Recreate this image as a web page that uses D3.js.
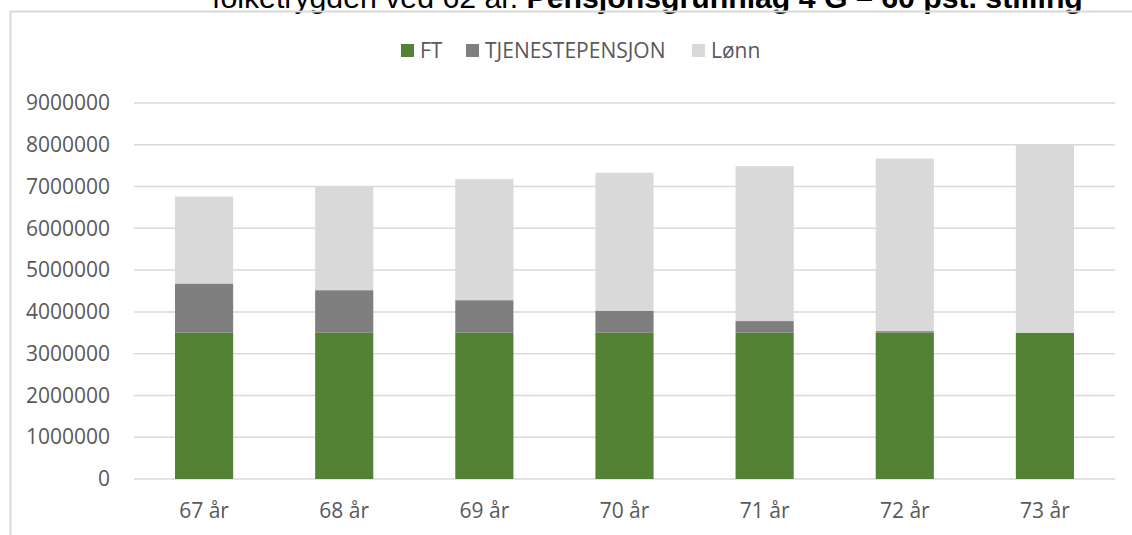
<!DOCTYPE html>
<html>
<head>
<meta charset="utf-8">
<script src="https://cdn.jsdelivr.net/npm/d3@7"></script>
<style>
  html, body { margin: 0; padding: 0; background: #fff; overflow: hidden; }
  svg { display: block; }
</style>
</head>
<body>
<div id="chart"></div>
<script>
const categories = ["67 år", "68 år", "69 år", "70 år", "71 år", "72 år", "73 år"];
const ftValues = [3500000, 3500000, 3500000, 3500000, 3500000, 3500000, 3500000];
const tjenesteValues = [1180000, 1020000, 780000, 530000, 280000, 40000, 0];
const lonnValues = [2080000, 2480000, 2900000, 3300000, 3710000, 4130000, 4490000];
const seriesNames = ["FT", "TJENESTEPENSJON", "Lønn"];
const seriesColors = ["#548235", "#7f7f7f", "#d9d9d9"];
const yTicks = [0, 1000000, 2000000, 3000000, 4000000, 5000000, 6000000, 7000000, 8000000, 9000000];

const width = 1132, height = 535;
const svg = d3.select("#chart").append("svg")
	.attr("width", width)
	.attr("height", height);

// cut-off title from the surrounding document
let title = svg.append("text")
	.attr("x", 212)
	.attr("y", 8)
	.style("font", "30px 'Liberation Sans', Arial, sans-serif")
	.attr("fill", "#000");
title.append("tspan").text("folketrygden ved 62 år. ");
title.append("tspan").style("font-weight", "bold").text("Pensjonsgrunnlag 4 G – 60 pst. stilling");
// stretch to the width it has in the source
let tw = title.node().getComputedTextLength();
title.style("font-size", (30 * 871 / tw) + "px");

// chart frame
svg.append("path")
	.attr("d", `M10.5,${height} V11.5 H${width}`)
	.attr("fill", "none")
	.attr("stroke", "#d9d9d9")
	.attr("stroke-width", 2);

let margin = {top: 103, right: 17, bottom: 56, left: 134};

let x = d3.scaleBand()
	.domain(categories)
	.range([margin.left, width - margin.right])
	.paddingInner(0.585)
	.paddingOuter(0.2925);

let y = d3.scaleLinear()
	.domain([0, 9000000])
	.range([height - margin.bottom, margin.top]);

const labelFont = "21px 'Open Sans', sans-serif";

// grid
svg.append("g")
	.selectAll("line")
	.data(yTicks).enter()
	.append("line")
	.attr("x1", margin.left)
	.attr("x2", width - margin.right)
	.attr("y1", d => y(d))
	.attr("y2", d => y(d))
	.attr("stroke", "#d9d9d9")
	.attr("stroke-width", 1.5);

let yAxis = g => g
	.attr("transform", `translate(${margin.left - 24},0)`)
	.call(d3.axisLeft(y).tickValues(yTicks).tickFormat(d3.format("d")).tickSize(0).tickPadding(0))
	.call(g => g.select(".domain").remove());

svg.append("g")
	.call(yAxis)
	.call(g => g.selectAll("text").style("font", labelFont).attr("fill", "#595959"));

let xAxis = g => g
	.attr("transform", `translate(0,${height - margin.bottom})`)
	.call(d3.axisBottom(x).tickSize(0).tickPadding(24))
	.call(g => g.select(".domain").remove());

svg.append("g")
	.call(xAxis)
	.call(g => g.selectAll("text").style("font", labelFont).attr("fill", "#595959"));

// stacked bars
let rows = categories.map((c, i) => ({
	cat: c,
	FT: ftValues[i],
	TJENESTEPENSJON: tjenesteValues[i],
	"Lønn": lonnValues[i]
}));
let stacked = d3.stack().keys(seriesNames)(rows);

svg.append("g")
	.selectAll("g")
	.data(stacked).enter()
	.append("g")
	.attr("fill", (d, i) => seriesColors[i])
	.selectAll("rect")
	.data(d => d).enter()
	.append("rect")
	.attr("x", d => x(d.data.cat))
	.attr("width", x.bandwidth())
	.attr("y", d => y(d[1]))
	.attr("height", d => y(d[0]) - y(d[1]));

// legend
let legendX = [401, 466, 692];
let legend = svg.append("g")
	.selectAll("g")
	.data(seriesNames).enter()
	.append("g")
	.attr("transform", (d, i) => `translate(${legendX[i]},44)`);

legend.append("rect")
	.attr("width", 13)
	.attr("height", 13)
	.attr("fill", (d, i) => seriesColors[i]);

legend.append("text")
	.attr("x", 19)
	.attr("y", 13.5)
	.style("font", "21px 'Open Sans', sans-serif")
	.attr("fill", "#595959")
	.text(d => d);
</script>
</body>
</html>
